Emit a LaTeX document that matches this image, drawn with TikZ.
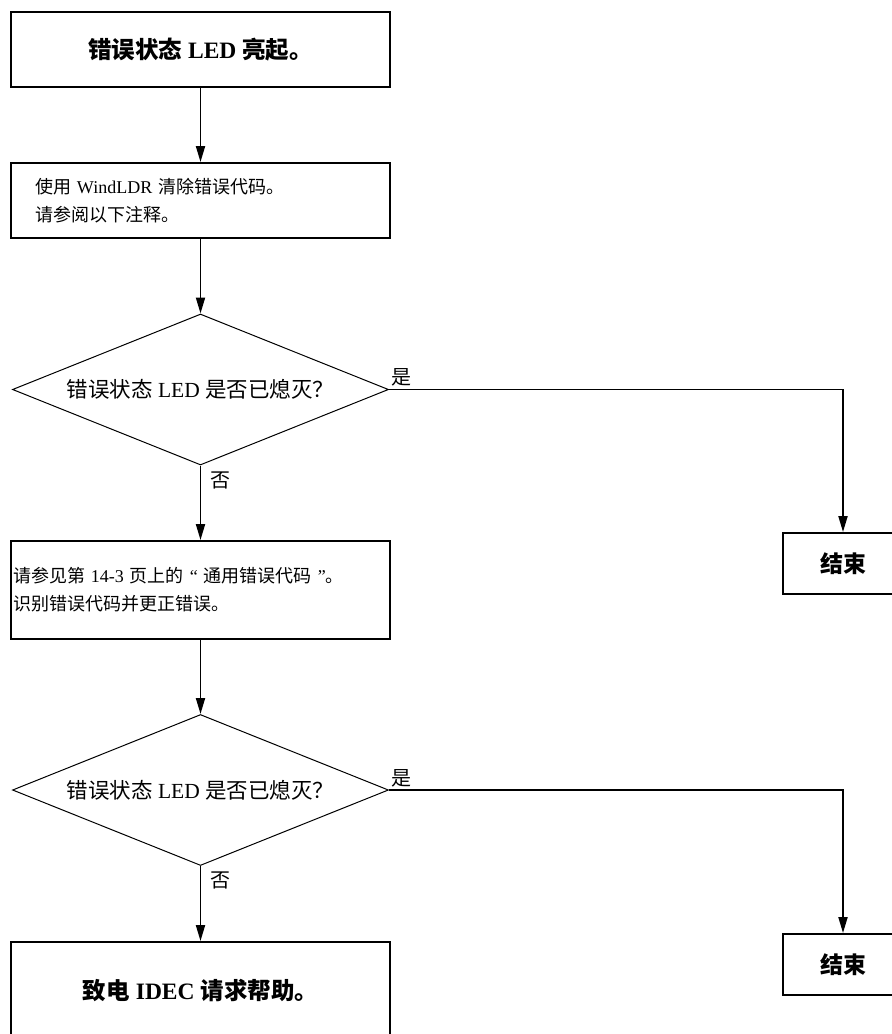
\documentclass[tikz,border=0pt]{standalone}
\usepackage{fontspec}
\setmainfont{Liberation Serif}
\newfontfamily\cjk{Noto Sans CJK SC}
\usetikzlibrary{shapes.geometric,arrows.meta}
\newcommand\zh[1]{{\cjk #1}}

\begin{document}
\begin{tikzpicture}[x=1pt,y=-1pt,
  box/.style={draw,line width=1.9pt,rectangle,inner sep=0pt},
  boldtext/.style={font=\fontsize{23.5}{27}\selectfont\bfseries},
  plaintext/.style={font=\fontsize{18}{28}\selectfont},
  decision/.style={draw,line width=1pt,diamond,shape aspect=2.49,
    minimum width=376pt,minimum height=151pt,inner sep=0pt,
    font=\fontsize{21.5}{25}\selectfont},
  endbox/.style={box,minimum width=120pt,minimum height=61pt,
    font=\fontsize{23}{27}\selectfont\bfseries},
  flow/.style={line width=1.9pt,-{Triangle[length=16pt,width=9pt]}},
  answer/.style={font=\fontsize{20}{24}\selectfont,inner sep=0pt}
]
\clip (0,0) rectangle (892,1034);

% main column
\node[box,boldtext,minimum width=379pt,minimum height=75pt] (start) at (200.5,49.5)
  {\zh{错误状态} LED \zh{亮起。}};
\node[box,plaintext,minimum width=379pt,minimum height=75pt,align=left,
  text width=331pt,inner xsep=24pt] (clear) at (200.5,200.5)
  {\zh{使用} WindLDR \zh{清除错误代码。}\\\zh{请参阅以下注释。}};
\node[decision] (check1) at (200.5,389.5) {\zh{错误状态} LED \zh{是否已熄灭？}};
\node[box,plaintext,minimum width=379pt,minimum height=98pt,align=left,
  text width=375pt,inner xsep=2pt] (refer) at (200.5,590)
  {\zh{请参见第} 14-3 \zh{页上的} “ \zh{通用错误代码} ”\zh{。}\\\zh{识别错误代码并更正错误。}};
\node[decision] (check2) at (200.5,790) {\zh{错误状态} LED \zh{是否已熄灭？}};
\node[box,boldtext,minimum width=379pt,minimum height=96pt] (help) at (200.5,990)
  {\zh{致电} IDEC \zh{请求帮助。}};

% end states
\node[endbox] (end1) at (843,563.5) {\zh{结束}};
\node[endbox] (end2) at (843,964.5) {\zh{结束}};

% connectors
\draw[flow] (start) -- (clear);
\draw[flow] (clear) -- (check1);
\draw[flow] (check1.east) -| node[answer,pos=0,anchor=south west,xshift=2pt,yshift=2pt] (yes1) {\zh{是}} (end1.north);
\draw[flow] (check1.south) -- node[answer,pos=0,anchor=north west,xshift=9pt,yshift=-5pt] (no1) {\zh{否}} (refer.north);
\draw[flow] (refer) -- (check2);
\draw[flow] (check2.east) -| node[answer,pos=0,anchor=south west,xshift=2pt,yshift=2pt] (yes2) {\zh{是}} (end2.north);
\draw[flow] (check2.south) -- node[answer,pos=0,anchor=north west,xshift=9pt,yshift=-5pt] (no2) {\zh{否}} (help.north);
\end{tikzpicture}
\end{document}
